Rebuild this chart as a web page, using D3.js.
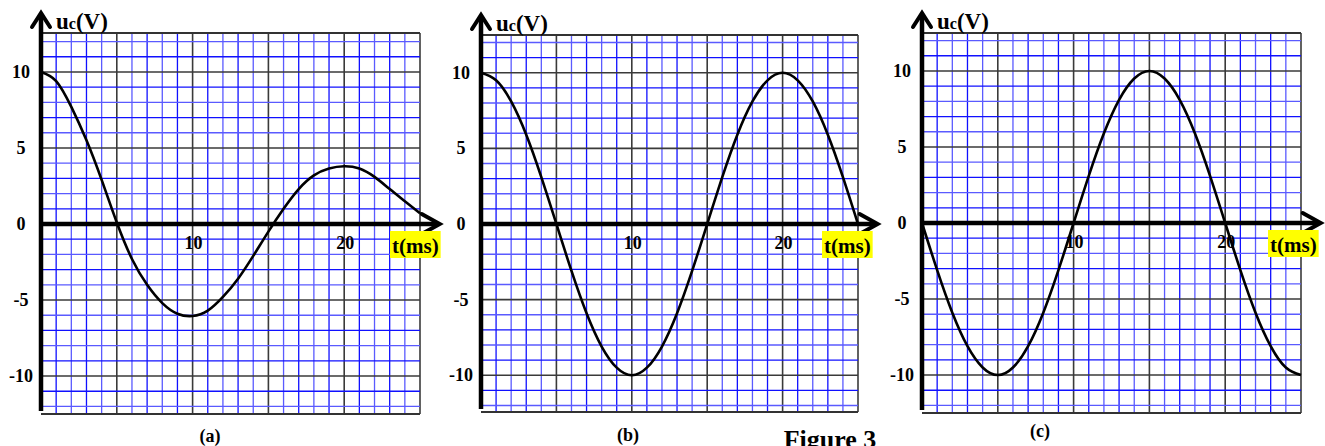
<!DOCTYPE html>
<html><head><meta charset="utf-8">
<script src="https://cdn.jsdelivr.net/npm/d3@7"></script>
<style>body{margin:0;background:#fff}svg{display:block}text{font-family:"Liberation Serif","Times New Roman",serif;font-weight:bold}</style>
</head><body><svg id="c" width="1325" height="446"></svg>
<script>
const times = d3.range(0, 26);
const seriesA = [10, 9.4, 7.7, 5.5, 2.9, 0.1, -2.3, -4.0, -5.2, -5.9, -6.05, -5.7, -4.8, -3.6, -2.1, -0.5, 1.0, 2.3, 3.2, 3.65, 3.8, 3.65, 3.1, 2.3, 1.5, 0.7];
const seriesB = [10, 9.5, 8.1, 5.9, 3.1, 0, -3.1, -5.9, -8.1, -9.5, -10, -9.5, -8.1, -5.9, -3.1, 0, 3.1, 5.9, 8.1, 9.5, 10, 9.5, 8.1, 5.9, 3.1, 0];
const seriesC = [0, -3.1, -5.9, -8.1, -9.5, -10, -9.5, -8.1, -5.9, -3.1, 0, 3.1, 5.9, 8.1, 9.5, 10, 9.5, 8.1, 5.9, 3.1, 0, -3.1, -5.9, -8.1, -9.5, -10];
const yTickValues = [10, 5, 0, -5, -10];
const yTickLabels = ["10", "5", "0", "-5", "-10"];
const xTickValues = [10, 20];
const xTickLabels = ["10", "20"];
const captions = ["(a)", "(b)", "(c)"];
const yAxisTitle = ["u", "c", "(V)"];
const xAxisTitle = "t(ms)";
const figureTitle = "Figure 3";

const panels = [
  {data: seriesA, x0: 41, x1: 420, yz: 224, top: 33, bottom: 414, capX: 210, capY: 442, tx: 392},
  {data: seriesB, x0: 481, x1: 858, yz: 224, top: 35, bottom: 412, capX: 628, capY: 441, tx: 824},
  {data: seriesC, x0: 922, x1: 1301, yz: 223, top: 33, bottom: 413, capX: 1040, capY: 437, tx: 1270}
];

const svg = d3.select("#c");

panels.forEach((p, pi) => {
  const x = d3.scaleLinear().domain([0, 25]).range([p.x0, p.x1]);
  const cell = (p.x1 - p.x0) / 25 * 1.003;
  const vTop = (p.yz - p.top) / cell, vBot = (p.bottom - p.yz) / cell;
  const y = d3.scaleLinear().domain([-vBot, vTop]).range([p.bottom, p.top]);
  const g = svg.append("g");

  const vLines = d3.range(1, 26);
  g.selectAll(".vl").data(vLines).enter().append("line")
    .attr("x1", d => x(d)).attr("x2", d => x(d)).attr("y1", y(vTop)).attr("y2", y(-vBot))
    .attr("stroke", d => d % 5 === 0 ? "#3a3a3a" : (d % 2 ? "#1010ff" : "#5a5aff"))
    .attr("stroke-width", d => d % 5 === 0 ? 1.6 : 1.3);
  const hLines = d3.range(-12, 13).filter(v => v !== 0);
  g.selectAll(".hl").data(hLines).enter().append("line")
    .attr("x1", x(0)).attr("x2", x(25)).attr("y1", d => y(d)).attr("y2", d => y(d))
    .attr("stroke", d => d % 5 === 0 ? "#3a3a3a" : (d % 2 ? "#1010ff" : "#5a5aff"))
    .attr("stroke-width", d => d % 5 === 0 ? 1.6 : 1.3);
  [vTop, -vBot].forEach(v => g.append("line").attr("x1", x(0)).attr("x2", x(25))
    .attr("y1", y(v)).attr("y2", y(v)).attr("stroke", "#333").attr("stroke-width", 2));

  const xTip = x(26.3);
  g.append("line").attr("x1", x(0)).attr("x2", xTip - 2).attr("y1", y(0)).attr("y2", y(0))
    .attr("stroke", "#000").attr("stroke-width", 4.5);
  g.append("path").attr("d", `M${xTip-18},${y(0)-10} L${xTip},${y(0)} L${xTip-18},${y(0)+10}`)
    .attr("fill", "none").attr("stroke", "#000").attr("stroke-width", 4).attr("stroke-linecap", "round");

  const yTip = p.top - 20;
  g.append("line").attr("x1", x(0)).attr("x2", x(0)).attr("y1", yTip + 2).attr("y2", p.bottom - 3)
    .attr("stroke", "#000").attr("stroke-width", 4.5);
  g.append("path").attr("d", `M${x(0)-9},${yTip+14} L${x(0)},${yTip} L${x(0)+9},${yTip+14}`)
    .attr("fill", "none").attr("stroke", "#000").attr("stroke-width", 4).attr("stroke-linecap", "round");

  const line = d3.line().x((d, i) => x(times[i])).y(d => y(d)).curve(d3.curveNatural);
  g.append("path").datum(p.data).attr("d", line).attr("fill", "none")
    .attr("stroke", "#000").attr("stroke-width", 2.6);

  g.selectAll(".yt").data(yTickValues).enter().append("text")
    .attr("x", p.x0 - 20).attr("y", d => y(d) + 6).attr("text-anchor", "middle")
    .attr("font-size", 18).text((d, i) => yTickLabels[i]);
  g.selectAll(".xt").data(xTickValues).enter().append("text")
    .attr("x", d => x(d) + 1).attr("y", y(0) + 25).attr("text-anchor", "middle")
    .attr("font-size", 18).text((d, i) => xTickLabels[i]);

  const yt = g.append("text").attr("x", p.x0 + 15).attr("y", p.top - 4).attr("font-size", 23);
  yt.append("tspan").text(yAxisTitle[0]);
  yt.append("tspan").attr("font-size", 16).text(yAxisTitle[1]);
  yt.append("tspan").text(yAxisTitle[2]);

  const xt = g.append("text").attr("x", p.tx).attr("y", y(0) + 29).attr("font-size", 21).text(xAxisTitle);
  const bb = xt.node().getBBox();
  g.insert("rect", () => xt.node()).attr("x", bb.x - 2).attr("y", y(0) + 7).attr("width", bb.width + 4)
    .attr("height", 27).attr("fill", "#ffff00");

  g.append("text").attr("x", p.capX).attr("y", p.capY).attr("text-anchor", "middle")
    .attr("font-size", 18).text(captions[pi]);
});

svg.append("text").attr("x", 830).attr("y", 448).attr("text-anchor", "middle")
  .attr("font-size", 26).text(figureTitle);
</script></body></html>
